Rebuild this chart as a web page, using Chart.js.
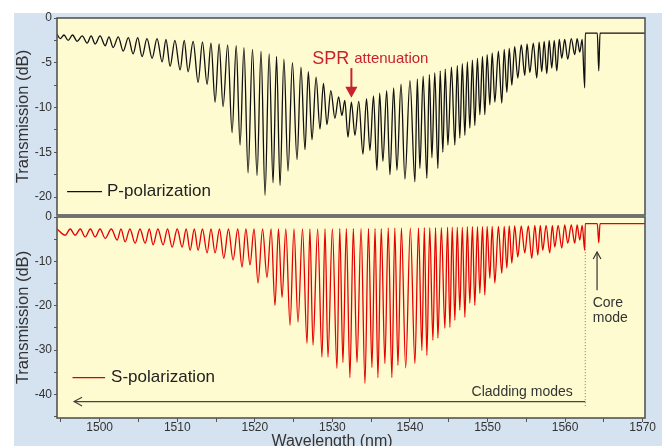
<!DOCTYPE html>
<html><head><meta charset="utf-8">
<script src="https://cdn.jsdelivr.net/npm/chart.js@4/dist/chart.umd.min.js"></script>
<style>
html,body{margin:0;padding:0;background:#fff;overflow:hidden;width:662px;height:446px}
#bg{position:absolute;left:14px;top:13px;width:648px;height:433px;background:#d5e3f1}
#c1{position:absolute;left:0;top:0}
#c2{position:absolute;left:0;top:200px}
</style></head><body>
<div id="bg"></div>
<canvas id="c1" width="662" height="216"></canvas>
<canvas id="c2" width="662" height="248"></canvas>
<script>
// ---------- data ----------
const wavelengthRange = [1494.5, 1570.3];          // nm
const pRange = [-22, 0];                            // dB, top panel
const sRange = [-45.3, 0];                          // dB, bottom panel

// P-polarization: alternating envelope peaks and resonance dips
const pWavelength = [
 1494.5,1494.91,1495.4,1495.94,1496.5,1497.10,1497.75,1498.39,1498.9,1499.42,
 1500.05,1500.71,1501.2,1501.74,1502.4,1503.03,1503.7,1504.31,1504.9,1505.47,
 1506.1,1506.76,1507.4,1508.05,1508.55,1509.08,1509.7,1510.37,1510.9,1511.40,
 1512.05,1512.69,1513.25,1513.85,1514.35,1514.88,1515.4,1515.91,1516.5,1517.07,
 1517.6,1518.10,1518.6,1519.13,1519.7,1520.29,1520.8,1521.32,1521.85,1522.35,
 1522.8,1523.25,1523.75,1524.28,1524.85,1525.44,1525.95,1526.47,1526.9,1527.37,
 1527.9,1528.40,1528.85,1529.30,1529.8,1530.33,1530.8,1531.23,1531.6,1532.01,
 1532.45,1532.91,1533.4,1533.94,1534.4,1534.84,1535.3,1535.74,1536.1,1536.51,
 1537.0,1537.42,1537.9,1538.32,1538.85,1539.35,1540.0,1540.64,1540.95,1541.28,
 1541.7,1542.18,1542.5,1542.83,1543.2,1543.60,1543.9,1544.24,1544.55,1544.89,
 1545.35,1545.79,1546.1,1546.43,1546.75,1547.08,1547.4,1547.72,1548.05,1548.36,
 1548.7,1549.01,1549.35,1549.65,1549.95,1550.30,1550.6,1550.94,1551.4,1551.84,
 1552.15,1552.49,1552.8,1553.13,1553.5,1553.90,1554.35,1554.80,1555.1,1555.45,
 1555.9,1556.35,1556.65,1556.99,1557.3,1557.64,1557.95,1558.28,1558.6,1558.93,
 1559.25,1559.57,1559.95,1560.34,1560.8,1561.24,1561.55,1561.89,1562.2,1562.53,
 1562.6,1564.15,1564.34,1564.5,1570.3
];
const pTransmission = [
 -1.8,-2.3,-1.9,-2.5,-1.9,-2.6,-2.0,-2.8,-2.0,-2.9,
 -2.0,-3.1,-2.1,-3.3,-2.1,-3.7,-2.2,-4.0,-2.2,-4.3,
 -2.3,-4.5,-2.3,-4.9,-2.4,-5.4,-2.5,-5.8,-2.5,-6.0,
 -2.6,-7.2,-2.7,-7.4,-2.8,-9.4,-2.9,-9.9,-3.0,-12.8,
 -3.1,-14.2,-3.3,-17.3,-3.5,-17.6,-3.7,-19.8,-4.0,-18.4,
 -4.3,-18.7,-4.6,-17.1,-5.0,-15.8,-5.5,-14.7,-6.0,-13.6,
 -6.6,-12.4,-7.3,-11.9,-8.1,-11.2,-8.8,-10.9,-9.2,-13.3,
 -9.4,-13.1,-9.3,-15.2,-9.0,-14.8,-8.7,-17.0,-8.4,-16.0,
 -8.1,-17.5,-7.8,-17.0,-7.4,-18.0,-7.0,-18.3,-6.8,-16.8,
 -6.5,-17.9,-6.3,-15.6,-6.1,-16.8,-5.9,-15.0,-5.7,-14.2,
 -5.5,-14.2,-5.3,-13.4,-5.1,-13.1,-4.9,-12.3,-4.7,-12.0,
 -4.5,-10.8,-4.3,-10.8,-4.1,-9.7,-3.9,-9.4,-3.7,-9.5,
 -3.5,-8.3,-3.4,-7.5,-3.2,-6.7,-3.0,-6.4,-2.9,-6.1,
 -2.8,-6.7,-2.7,-6.0,-2.6,-6.2,-2.5,-5.6,-2.5,-5.9,
 -2.4,-4.5,-2.4,-4.6,-2.3,-4.1,-2.3,-3.8,-2.4,-7.8,
 -1.7,-1.7,-5.9,-1.7,-1.7
];

// S-polarization: alternating envelope peaks and resonance dips
const sWavelength = [
 1494.5,1495.56,1496.2,1496.84,1497.5,1498.13,1498.8,1499.42,1500.05,1500.71,
 1501.5,1502.25,1502.75,1503.28,1503.9,1504.57,1505.2,1505.86,1506.4,1506.89,
 1507.5,1508.18,1508.75,1509.34,1510.0,1510.63,1511.15,1511.66,1512.2,1512.69,
 1513.25,1513.85,1514.35,1514.88,1515.45,1516.0,1516.6,1517.2,1517.8,1518.35,
 1518.85,1519.38,1519.9,1520.41,1521.0,1521.57,1522.1,1522.60,1523.05,1523.51,
 1524.0,1524.54,1525.05,1525.57,1526.15,1526.73,1527.1,1527.50,1528.1,1528.66,
 1529.05,1529.43,1530.0,1530.59,1530.95,1531.36,1531.8,1532.26,1532.7,1533.17,
 1533.7,1534.20,1534.65,1535.10,1535.5,1535.87,1536.3,1536.77,1537.2,1537.67,
 1538.05,1538.45,1538.9,1539.45,1540.05,1540.64,1541.1,1541.54,1541.85,1542.18,
 1542.55,1542.96,1543.3,1543.60,1544.05,1544.50,1544.85,1545.15,1545.45,1545.79,
 1546.1,1546.43,1546.75,1547.08,1547.4,1547.72,1548.05,1548.36,1548.7,1549.01,
 1549.35,1549.65,1549.95,1550.30,1550.6,1550.94,1551.4,1551.84,1552.15,1552.49,
 1552.8,1553.13,1553.5,1553.90,1554.35,1554.80,1555.25,1555.70,1556.1,1556.48,
 1556.8,1557.12,1557.55,1558.02,1558.35,1558.67,1559.1,1559.57,1559.95,1560.34,
 1560.8,1561.24,1561.55,1561.89,1562.2,1562.53,1562.6,1564.15,1564.34,1564.5,
 1570.3
];
const sTransmission = [
 -2.7,-4.1,-2.7,-4.1,-2.7,-4.5,-2.7,-4.5,-2.7,-4.8,
 -2.7,-5.2,-2.7,-5.6,-2.7,-5.9,-2.7,-5.9,-2.7,-6.3,
 -2.7,-6.3,-2.7,-6.8,-2.7,-6.8,-2.7,-7.5,-2.7,-7.5,
 -2.7,-8.1,-2.7,-8.1,-2.7,-9.3,-2.7,-9.7,-2.7,-11.3,
 -2.7,-10.8,-2.7,-14.9,-2.7,-13.6,-2.7,-19.9,-2.7,-18.1,
 -2.7,-24.4,-2.7,-23.7,-2.7,-28.5,-2.7,-28.9,-2.7,-31.6,
 -2.7,-31.6,-2.7,-34.1,-2.6,-32.8,-2.6,-36.2,-2.6,-32.8,
 -2.6,-37.5,-2.6,-33.9,-2.6,-36.2,-2.6,-33.0,-2.5,-36.2,
 -2.5,-33.4,-2.5,-34.0,-2.5,-33.0,-2.5,-30.1,-2.4,-31.2,
 -2.4,-27.8,-2.4,-27.3,-2.4,-25.1,-2.3,-24.9,-2.3,-23.3,
 -2.3,-21.0,-2.3,-22.6,-2.2,-19.4,-2.2,-19.9,-2.2,-17.2,
 -2.2,-17.6,-2.1,-13.8,-2.1,-14.9,-2.1,-12.7,-2.1,-11.5,
 -2.0,-10.4,-2.0,-9.0,-2.0,-8.1,-2.0,-9.3,-1.9,-8.6,
 -1.9,-7.5,-1.9,-8.1,-1.9,-6.8,-1.9,-7.0,-1.8,-5.9,
 -1.8,-5.9,-1.8,-5.2,-1.9,-7.5,-1.5,-1.5,-5.8,-1.5,
 -1.5
];

// annotation anchors (nm, dB)
const sprLabel = [1527.4, -5.1], sprArrow = [1532.45, -5.6, -8.9];
const pLegend = [1495.8, 1500.3, -19.4];
const sLegend = [1496.5, 1500.7, -36.2];
const claddingArrow = [1562.6, 1496.7, -41.6];
const claddingCut = [1562.6, -5.9, -42.9];
const coreArrow = [1564.12, -16.5, -7.9];
const coreLabel = [1563.56, -20.3, -23.7];
const xTitleAt = 1529.95;

// ---------- rendering ----------
const FONT = "'Liberation Sans', Arial, Helvetica, sans-serif";
Chart.defaults.font.family = FONT;
const CREAM = '#fffbd0', FRAME = '#555555', TXT = '#333333';

function pts(xs, ys) { return xs.map((x, i) => ({ x: x, y: ys[i] })); }

const panelPlugin = {
  id: 'panel',
  beforeDraw(chart) {
    const { ctx, chartArea: a } = chart;
    ctx.save(); ctx.fillStyle = CREAM;
    ctx.fillRect(a.left, a.top, a.right - a.left, a.bottom - a.top);
    ctx.restore();
  },
  afterDraw(chart) {
    const { ctx, chartArea: a } = chart;
    ctx.save(); ctx.strokeStyle = FRAME; ctx.lineWidth = 1.6;
    ctx.strokeRect(a.left, a.top, a.right - a.left, a.bottom - a.top);
    ctx.restore();
  }
};

function arrowHead(ctx, x, y, dx, dy, size, filled) {
  const len = Math.hypot(dx, dy), ux = dx / len, uy = dy / len;
  const bx = x - ux * size, by = y - uy * size;
  const px = -uy * size * 0.55, py = ux * size * 0.55;
  ctx.beginPath();
  ctx.moveTo(bx + px, by + py); ctx.lineTo(x, y); ctx.lineTo(bx - px, by - py);
  if (filled) { ctx.closePath(); ctx.fill(); } else ctx.stroke();
}

const topNotes = {
  id: 'topNotes',
  afterDatasetsDraw(chart) {
    const { ctx, scales: { x, y } } = chart;
    ctx.save();
    ctx.fillStyle = '#c8232c'; ctx.strokeStyle = '#c8232c';
    ctx.textBaseline = 'alphabetic'; ctx.textAlign = 'left';
    ctx.font = '18px ' + FONT;
    const sx = x.getPixelForValue(sprLabel[0]), sy = y.getPixelForValue(sprLabel[1]);
    ctx.fillText('SPR', sx, sy);
    const w = ctx.measureText('SPR ').width;
    ctx.font = '15px ' + FONT;
    ctx.fillText('attenuation', sx + w, sy - 1);
    const ax = x.getPixelForValue(sprArrow[0]);
    const ay1 = y.getPixelForValue(sprArrow[1]), ay2 = y.getPixelForValue(sprArrow[2]);
    ctx.lineWidth = 2;
    ctx.beginPath(); ctx.moveTo(ax, ay1); ctx.lineTo(ax, ay2 - 8); ctx.stroke();
    arrowHead(ctx, ax, ay2, 0, 1, 11, true);
    // legend
    const ly = y.getPixelForValue(pLegend[2]);
    ctx.strokeStyle = '#111'; ctx.lineWidth = 1.2;
    ctx.beginPath(); ctx.moveTo(x.getPixelForValue(pLegend[0]), ly); ctx.lineTo(x.getPixelForValue(pLegend[1]), ly); ctx.stroke();
    ctx.fillStyle = '#222'; ctx.font = '17px ' + FONT; ctx.textBaseline = 'middle';
    ctx.fillText('P-polarization', x.getPixelForValue(pLegend[1]) + 5, ly);
    ctx.restore();
  }
};

const bottomNotes = {
  id: 'bottomNotes',
  afterDatasetsDraw(chart) {
    const { ctx, scales: { x, y }, chartArea: a } = chart;
    ctx.save();
    // S legend
    const ly = y.getPixelForValue(sLegend[2]);
    ctx.strokeStyle = '#e00000'; ctx.lineWidth = 1.2;
    ctx.beginPath(); ctx.moveTo(x.getPixelForValue(sLegend[0]), ly); ctx.lineTo(x.getPixelForValue(sLegend[1]), ly); ctx.stroke();
    ctx.fillStyle = '#222'; ctx.font = '17px ' + FONT; ctx.textBaseline = 'middle'; ctx.textAlign = 'left';
    ctx.fillText('S-polarization', x.getPixelForValue(sLegend[1]) + 6, ly);
    // cladding arrow
    const cy = y.getPixelForValue(claddingArrow[2]);
    const cx1 = x.getPixelForValue(claddingArrow[0]), cx2 = x.getPixelForValue(claddingArrow[1]);
    ctx.strokeStyle = '#444'; ctx.lineWidth = 1.2;
    ctx.beginPath(); ctx.moveTo(cx1, cy); ctx.lineTo(cx2, cy); ctx.stroke();
    arrowHead(ctx, cx2, cy, -1, 0, 8, false);
    // dotted cut line
    const dx = x.getPixelForValue(claddingCut[0]);
    ctx.strokeStyle = '#777'; ctx.lineWidth = 1; ctx.setLineDash([1, 2]);
    ctx.beginPath(); ctx.moveTo(dx, y.getPixelForValue(claddingCut[1])); ctx.lineTo(dx, y.getPixelForValue(claddingCut[2])); ctx.stroke();
    ctx.setLineDash([]);
    ctx.fillStyle = TXT; ctx.font = '14px ' + FONT; ctx.textBaseline = 'alphabetic'; ctx.textAlign = 'right';
    ctx.fillText('Cladding modes', x.getPixelForValue(1560.99), y.getPixelForValue(-40.45));
    // core mode
    const kx = x.getPixelForValue(coreArrow[0]);
    ctx.strokeStyle = '#333'; ctx.lineWidth = 1.2;
    ctx.beginPath(); ctx.moveTo(kx, y.getPixelForValue(coreArrow[1])); ctx.lineTo(kx, y.getPixelForValue(coreArrow[2])); ctx.stroke();
    arrowHead(ctx, kx, y.getPixelForValue(coreArrow[2]), 0, -1, 7, false);
    ctx.textAlign = 'left';
    ctx.fillText('Core', x.getPixelForValue(coreLabel[0]), y.getPixelForValue(coreLabel[1]));
    ctx.fillText('mode', x.getPixelForValue(coreLabel[0]), y.getPixelForValue(coreLabel[2]));
    // x title
    ctx.font = '16px ' + FONT; ctx.textAlign = 'center'; ctx.textBaseline = 'middle';
    ctx.fillText('Wavelength (nm)', x.getPixelForValue(xTitleAt), a.bottom + 24);
    ctx.restore();
  }
};

function yAxis(range, step, labelStep) {
  return {
    min: range[0], max: range[1],
    border: { display: false },
    grid: { drawOnChartArea: false, drawTicks: true, tickLength: 3, color: FRAME, lineWidth: 1 },
    ticks: {
      stepSize: step, includeBounds: false, padding: 2, color: TXT,
      font: { size: 12 },
      callback: v => (Math.abs(v % labelStep) < 1e-9 ? String(v) : '')
    },
    title: { display: true, text: 'Transmission (dB)', color: TXT, font: { size: 16.5 }, padding: { top: 0, bottom: 0 } },
    afterFit: s => { s.width = 43; s.paddingTop = 0; s.paddingBottom = 0; }
  };
}

const common = (ds, yScale, xScale, padding, plugins) => ({
  type: 'line',
  data: { datasets: [ds] },
  options: {
    responsive: false, animation: false, devicePixelRatio: 1,
    parsing: false, normalized: true,
    layout: { padding: padding },
    plugins: { legend: { display: false }, tooltip: { enabled: false } },
    elements: { point: { radius: 0 } },
    scales: { x: xScale, y: yScale }
  },
  plugins: plugins
});

new Chart(document.getElementById('c1'), common(
  { data: pts(pWavelength, pTransmission), borderColor: '#111111', borderWidth: 1.3, cubicInterpolationMode: 'monotone', fill: false },
  yAxis(pRange, 2.5, 5),
  { type: 'linear', min: wavelengthRange[0], max: wavelengthRange[1], display: false },
  { left: 14, right: 17, top: 18, bottom: 1 },
  [panelPlugin, topNotes]
));

new Chart(document.getElementById('c2'), common(
  { data: pts(sWavelength, sTransmission), borderColor: '#e60000', borderWidth: 1.3, cubicInterpolationMode: 'monotone', fill: false },
  yAxis(sRange, 5, 10),
  {
    type: 'linear', min: wavelengthRange[0], max: wavelengthRange[1],
    border: { display: false },
    grid: { drawOnChartArea: false, drawTicks: true, tickLength: 4, color: FRAME },
    ticks: {
      stepSize: 5, includeBounds: false, padding: 0, color: TXT, maxRotation: 0, autoSkip: false,
      font: { size: 12, lineHeight: 1 },
      callback: v => (Math.abs(v % 10) < 1e-9 ? String(v) : '')
    },
    afterFit: s => { s.height = 30; s.paddingLeft = 0; s.paddingRight = 0; }
  },
  { left: 14, right: 17, top: 17, bottom: 0 },
  [panelPlugin, bottomNotes]
));
</script></body></html>
